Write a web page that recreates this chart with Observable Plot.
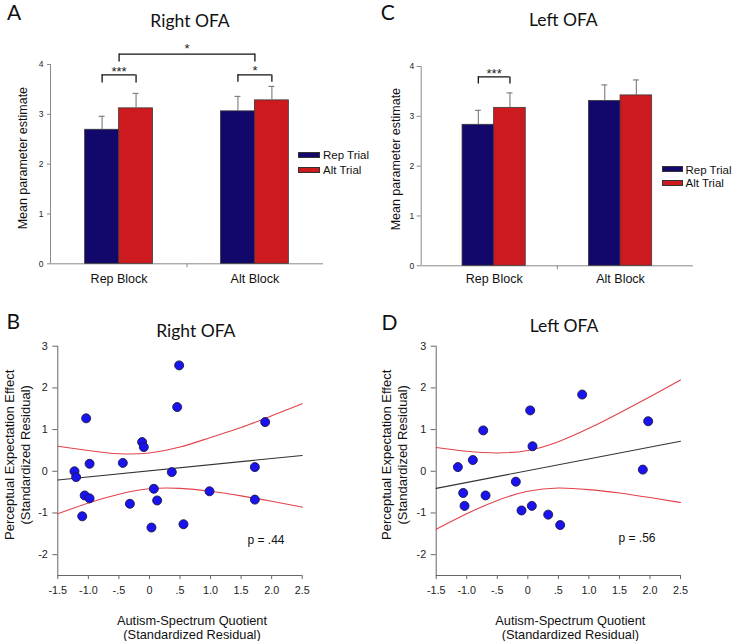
<!DOCTYPE html>
<html><head><meta charset="utf-8">
<script src="https://cdn.jsdelivr.net/npm/d3@7"></script>
<script src="https://cdn.jsdelivr.net/npm/@observablehq/plot@0.6"></script>
<style>
body{margin:0;background:#fff}
#fig{position:relative;width:733px;height:641px;background:#fff;font-family:"Liberation Sans",Arial,sans-serif;color:#111;overflow:hidden}
#fig svg, #fig svg text{font-family:"Liberation Sans",Arial,sans-serif !important}
.letter{position:absolute;font-family:Lato,"Open Sans",sans-serif;font-size:21px;line-height:1;color:#111}
.title{position:absolute;font-family:Lato,"Open Sans",sans-serif;font-size:17.5px;line-height:1;transform:translateX(-50%);white-space:nowrap;color:#111}
.legtxt{position:absolute;font-size:11.5px;line-height:14px;white-space:nowrap;color:#111}
.sw{position:absolute;height:6px;box-sizing:border-box;border:1px solid #333}
.panel{position:absolute}
</style></head><body><div id="fig"></div>
<script>
// ---------- data ----------
const blocks = ["Rep Block", "Alt Block"];
const trials = ["Rep Trial", "Alt Trial"];
const trialColors = ["#12086b", "#cc1a1f"];

// Panel A: Right OFA
const rightRepTrial = [2.69, 3.06];
const rightAltTrial = [3.12, 3.28];
const rightRepTrialErr = [2.96, 3.36];
const rightAltTrialErr = [3.42, 3.56];
const rightBracketBlocks = ["Rep Block", "Alt Block"];
const rightBracketTop = [3.79, 3.79];
const rightBracketLeg = [3.63, 3.645];
const rightStars = ["***", "*"];
const rightStarY = [3.85, 3.87];
const rightCross = {top: 4.21, leg: 4.05, starY: 4.31, label: "*"};

// Panel C: Left OFA
const leftRepTrial = [2.83, 3.31];
const leftAltTrial = [3.17, 3.42];
const leftRepTrialErr = [3.12, 3.63];
const leftAltTrialErr = [3.47, 3.73];
const leftBracketBlocks = ["Rep Block"];
const leftBracketTop = [3.79];
const leftBracketLeg = [3.65];
const leftStars = ["***"];
const leftStarY = [3.855];

const barTicks = [0, 1, 2, 3, 4];

// Panel B: Right OFA scatter
const rightAQ = [-1.227, -1.20, -1.036, -0.98, -1.06, -0.98, -1.10, -0.436, -0.32, -0.12, -0.092,
                 0.033, 0.072, 0.126, 0.366, 0.454, 0.486, 0.557, 0.983, 1.725, 1.725, 1.894];
const rightPEE = [0.00, -0.14, 1.27, 0.18, -0.58, -0.65, -1.08, 0.20, -0.78, 0.70, 0.58,
                  -1.35, -0.42, -0.70, -0.02, 1.54, 2.54, -1.27, -0.48, 0.10, -0.68, 1.18];
// Panel D: Left OFA scatter
const leftAQ = [-1.145, -0.90, -0.73, -1.058, -1.036, -0.692, -0.196, -0.103, 0.039, 0.077, 0.066,
                0.334, 0.530, 0.890, 1.883, 1.971];
const leftPEE = [0.10, 0.27, 0.98, -0.52, -0.83, -0.58, -0.25, -0.94, 1.46, 0.60, -0.83,
                 -1.04, -1.29, 1.84, 0.04, 1.20];

const regX = [-1.5, 2.5];
const rightRegY = [-0.21, 0.38];
const leftRegY = [-0.41, 0.72];
const ciX = [-1.5, -1, -0.5, 0, 0.5, 1, 1.5, 2, 2.5];
const rightCiUpper = [0.60, 0.50, 0.42, 0.44, 0.58, 0.81, 1.05, 1.33, 1.62];
const rightCiLower = [-1.02, -0.76, -0.55, -0.42, -0.41, -0.48, -0.59, -0.72, -0.86];
const leftCiUpper = [0.57, 0.48, 0.44, 0.50, 0.71, 1.03, 1.40, 1.79, 2.19];
const leftCiLower = [-1.39, -1.02, -0.70, -0.48, -0.40, -0.44, -0.52, -0.63, -0.75];

const yTicks = [-2, -1, 0, 1, 2, 3];
const xTicks = [-1.5, -1, -0.5, 0, 0.5, 1, 1.5, 2, 2.5];
const xTickLabels = ["-1.5", "-1.0", "-.5", "0", ".5", "1.0", "1.5", "2.0", "2.5"];

// ---------- drawing ----------
const fig = document.getElementById("fig");
const errColor = "#7a7a7a";
const axisColor = "#8a8a8a";
const FONT = "Liberation Sans, Arial, sans-serif";
const style = {fontFamily: FONT, background: "transparent", overflow: "visible", color: "#111"};

function put(el, left, top) {
  el.style.left = left + "px"; el.style.top = top + "px"; fig.appendChild(el); return el;
}
function div(cls, text, left, top) {
  const d = document.createElement("div"); d.className = cls; if (text != null) d.textContent = text; return put(d, left, top);
}

function barPanel(o) {
  const innerW = o.width - o.ml - o.mr;
  const pi = 0.5;
  const step = innerW / (2 - pi + 2 * o.po);
  const bw = step * (1 - pi);
  const q = bw / 4;
  const rep = blocks.map((b, i) => ({block: b, value: o.rep[i], upper: o.repErr[i]}));
  const alt = blocks.map((b, i) => ({block: b, value: o.alt[i], upper: o.altErr[i]}));
  const br = o.bracketBlocks.map((b, i) => ({block: b, top: o.bracketTop[i], leg: o.bracketLeg[i], starY: o.starY[i], label: o.stars[i]}));
  const marks = [
    Plot.ruleY([0], {stroke: axisColor}),
    Plot.ruleX([blocks[0]], {x: d => d, y1: 0, y2: 4, dx: -(o.po * step + bw / 2), stroke: axisColor}),
    Plot.barY(rep, {x: "block", y: "value", fill: trialColors[0], stroke: "#3a3a3a", strokeWidth: 0.8, insetRight: bw / 2}),
    Plot.barY(alt, {x: "block", y: "value", fill: trialColors[1], stroke: "#3a3a3a", strokeWidth: 0.8, insetLeft: bw / 2}),
    Plot.ruleX(rep, {x: "block", y1: "value", y2: "upper", dx: -q, stroke: errColor, strokeWidth: 1.1}),
    Plot.ruleX(alt, {x: "block", y1: "value", y2: "upper", dx: q, stroke: errColor, strokeWidth: 1.1}),
    Plot.tickY(rep, {x: "block", y: "upper", insetLeft: q - 3, insetRight: 3 * q - 3, stroke: errColor, strokeWidth: 1.1}),
    Plot.tickY(alt, {x: "block", y: "upper", insetLeft: 3 * q - 3, insetRight: q - 3, stroke: errColor, strokeWidth: 1.1}),
    Plot.tickY(br, {x: "block", y: "top", insetLeft: q, insetRight: q, stroke: "#111", strokeWidth: 1.3}),
    Plot.ruleX(br, {x: "block", y1: "leg", y2: "top", dx: -q, stroke: "#111", strokeWidth: 1.3}),
    Plot.ruleX(br, {x: "block", y1: "leg", y2: "top", dx: q, stroke: "#111", strokeWidth: 1.3}),
    Plot.text(br, {x: "block", y: "starY", text: "label", fontSize: 13, fontFamily: FONT, fill: "#222"}),
    Plot.axisY({ticks: barTicks, tickFormat: d => String(d), tickSize: o.ytickSize, tickPadding: o.ytickPad, fontSize: 8.5, fontFamily: FONT, stroke: axisColor, fill: "#222", label: null}),
    Plot.axisX({tickSize: 0, tickPadding: o.xPad, fontSize: 12.5, fontFamily: FONT, fill: "#111", label: null}),
    Plot.ruleX([blocks[1]], {x: d => d, y1: 0, y2: 0, dx: -step / 2, insetBottom: -4, stroke: axisColor}),
    Plot.text([o.ylabel], {frameAnchor: "left", textAnchor: "middle", lineAnchor: "middle", rotate: -90, dx: o.labelDx, dy: o.labelDy, fontSize: 12.5, fontFamily: FONT, fill: "#111"})
  ];
  if (o.cross) {
    const c = o.cross;
    marks.push(Plot.link([{x1: blocks[0], x2: blocks[1], y: c.top}], {x1: "x1", x2: "x2", y1: "y", y2: "y", stroke: "#111", strokeWidth: 1.3}));
    marks.push(Plot.ruleX(blocks, {x: d => d, y1: c.leg, y2: c.top, stroke: "#111", strokeWidth: 1.3}));
    marks.push(Plot.text([c.label], {y: c.starY, text: d => d, fontSize: 13, fontFamily: FONT, fill: "#222"}));
  }
  return Plot.plot({
    width: o.width, height: o.height,
    marginLeft: o.ml, marginRight: o.mr, marginTop: o.mt, marginBottom: o.mb,
    x: {type: "band", domain: blocks, paddingInner: pi, paddingOuter: o.po, round: false},
    y: {domain: [0, 4]},
    style,
    marks
  });
}

function scatterPanel(o) {
  const pts = o.xs.map((x, i) => ({x, y: o.ys[i]}));
  const up = ciX.map((x, i) => ({x, y: o.ciUp[i]}));
  const lo = ciX.map((x, i) => ({x, y: o.ciLo[i]}));
  const reg = regX.map((x, i) => ({x, y: o.regY[i]}));
  return Plot.plot({
    width: o.width, height: o.height,
    marginLeft: o.ml, marginRight: o.mr, marginTop: o.mt, marginBottom: o.mb,
    x: {domain: [-1.5, 2.5]},
    y: {domain: [-2.5, 3]},
    style,
    marks: [
      Plot.ruleX([-1.5], {stroke: "#666"}),
      Plot.ruleY([-2.5], {stroke: "#666"}),
      Plot.axisY({ticks: yTicks, tickFormat: d => String(d), tickSize: 5, tickPadding: 5, fontSize: 10.8, fontFamily: FONT, stroke: "#666", fill: "#222", label: null}),
      Plot.axisX({ticks: xTicks, tickFormat: d => xTickLabels[xTicks.indexOf(d)], tickSize: 4, tickPadding: 7, fontSize: 10.8, fontFamily: FONT, stroke: "#666", fill: "#222", label: null}),
      Plot.line(up, {x: "x", y: "y", curve: "natural", stroke: "#e2434a", strokeWidth: 1.1}),
      Plot.line(lo, {x: "x", y: "y", curve: "natural", stroke: "#e2434a", strokeWidth: 1.1}),
      Plot.line(reg, {x: "x", y: "y", stroke: "#333", strokeWidth: 1.1}),
      Plot.dot(pts, {x: "x", y: "y", r: 4.5, fill: "#1b12f0", stroke: "#1a1a40", strokeWidth: 0.9}),
      Plot.text(["Perceptual Expectation Effect\n(Standardized Residual)"], {frameAnchor: "left", textAnchor: "middle", lineAnchor: "middle", rotate: -90, lineHeight: 1.23, dx: o.labelDx, dy: -6, fontSize: 13, fontFamily: FONT, fill: "#111"}),
      Plot.text(["Autism-Spectrum Quotient\n(Standardized Residual)"], {frameAnchor: "bottom", textAnchor: "middle", lineAnchor: "top", lineHeight: 1.12, dx: o.xlabDx, dy: 39, fontSize: 12.8, fontFamily: FONT, fill: "#111"}),
      Plot.text([o.p], {frameAnchor: "bottom-right", textAnchor: "end", lineAnchor: "middle", dx: o.pDx, dy: o.pDy, fontSize: 12, fontFamily: FONT, fill: "#111"})
    ]
  });
}

function mount(svg, left, top) {
  const d = document.createElement("div"); d.className = "panel"; d.appendChild(svg); put(d, left, top);
}

mount(barPanel({width: 340, height: 300, ml: 50, mr: 17, mt: 64, mb: 36.7, po: 0.255,
  rep: rightRepTrial, alt: rightAltTrial, repErr: rightRepTrialErr, altErr: rightAltTrialErr,
  bracketBlocks: rightBracketBlocks, bracketTop: rightBracketTop, bracketLeg: rightBracketLeg, stars: rightStars, starY: rightStarY,
  cross: rightCross, ytickSize: 3, ytickPad: 4, xPad: 10.5, ylabel: "Mean parameter estimate", labelDx: -28, labelDy: -6}), 0, 0);

mount(barPanel({width: 373, height: 300, ml: 60.7, mr: 40, mt: 66, mb: 34.7, po: 0.327,
  rep: leftRepTrial, alt: leftAltTrial, repErr: leftRepTrialErr, altErr: leftAltTrialErr,
  bracketBlocks: leftBracketBlocks, bracketTop: leftBracketTop, bracketLeg: leftBracketLeg, stars: leftStars, starY: leftStarY,
  cross: null, ytickSize: 4, ytickPad: 3, xPad: 8.7, ylabel: "Mean parameter estimate", labelDx: -25.4, labelDy: -7}), 360, 0);

mount(scatterPanel({width: 340, height: 341, ml: 57.3, mr: 38.3, mt: 45.7, mb: 66,
  xs: rightAQ, ys: rightPEE, regY: rightRegY, ciUp: rightCiUpper, ciLo: rightCiLower,
  labelDx: -41, xlabDx: 12, p: "p = .44", pDx: -17.7, pDy: -35}), 0, 300);

mount(scatterPanel({width: 373, height: 341, ml: 75.7, mr: 53, mt: 45.7, mb: 66,
  xs: leftAQ, ys: leftPEE, regY: leftRegY, ciUp: leftCiUpper, ciLo: leftCiLower,
  labelDx: -42.7, xlabDx: 12, p: "p = .56", pDx: -25, pDy: -37}), 360, 300);

// letters and titles
div("letter", "A", 7, 0.7);
div("letter", "C", 380.7, 1.4);
div("letter", "B", 6.6, 309.7);
div("letter", "D", 381.6, 310.7);
div("title", "Right OFA", 190, 11.8);
div("title", "Left OFA", 563.3, 10.5);
div("title", "Right OFA", 195.8, 322);
div("title", "Left OFA", 564, 317);

// legends
function legend(swLeft, swWidth, swTops, textLeft, textCenters) {
  trials.forEach((t, i) => {
    const s = div("sw", null, swLeft, swTops[i]);
    s.style.background = trialColors[i];
    s.style.width = swWidth + "px";
    div("legtxt", t, textLeft, textCenters[i] - 7);
  });
}
legend(298.3, 22, [152.3, 167], 323, [155.3, 169.7]);
legend(661.7, 21, [166, 180.3], 685.5, [169.5, 183.3]);
</script></body></html>
